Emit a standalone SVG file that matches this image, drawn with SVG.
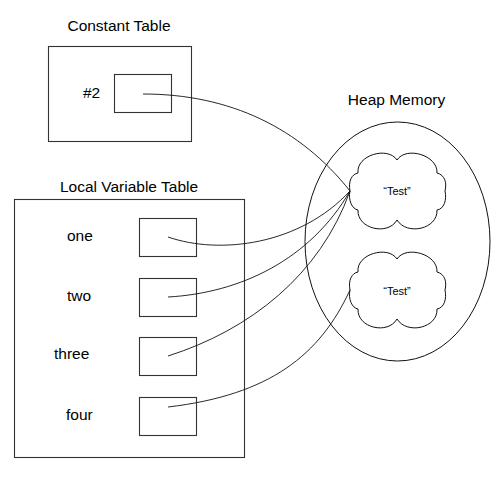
<svg xmlns="http://www.w3.org/2000/svg" width="504" height="482" viewBox="0 0 504 482">
<defs>
<style>
.box{fill:#fff;stroke:#333;stroke-width:1.1}
.t{font-family:"Liberation Sans",Arial,sans-serif;font-size:15.5px;fill:#000}
.s{font-family:"Liberation Sans",Arial,sans-serif;font-size:11px;fill:#000}
.c{fill:none;stroke:#111;stroke-width:0.9}
.sh{fill:none;stroke:#111;stroke-width:1}
</style>
<path id="cloud" d="M0,38 C-2,28 2,21 8,20 C6,2 38,-7 47,7 C56,-7 88,2 87,20 C95,22 97,30 95,38 C97,47 94,56 87,57 C88,76 57,83 47,67 C38,83 7,76 8,57 C2,56 -2,47 0,38 Z"/>
</defs>
<rect width="504" height="482" fill="#fff"/>
<g id="constant-table">
<text class="t" x="119" y="31" text-anchor="middle">Constant Table</text>
<rect class="box" x="48.5" y="46.5" width="143" height="95"/>
<text class="t" x="83" y="98">#2</text>
<rect class="box" x="114.5" y="74.5" width="57" height="38"/>
</g>
<g id="local-variable-table">
<text class="t" x="129" y="192" text-anchor="middle">Local Variable Table</text>
<rect class="box" x="14.5" y="199.5" width="230" height="258"/>
<text class="t" x="67" y="241">one</text>
<rect class="box" x="139.5" y="218.5" width="57" height="38"/>
<text class="t" x="67" y="301">two</text>
<rect class="box" x="139.5" y="278.5" width="57" height="38"/>
<text class="t" x="54" y="359">three</text>
<rect class="box" x="139.5" y="337.5" width="57" height="38"/>
<text class="t" x="66" y="420">four</text>
<rect class="box" x="139.5" y="397.5" width="57" height="38"/>
</g>
<g id="heap-memory">
<text class="t" x="396.5" y="105" text-anchor="middle">Heap Memory</text>
<ellipse class="sh" cx="397.5" cy="241.5" rx="92.5" ry="119.5"/>
</g>
<g id="test-1">
<use href="#cloud" class="sh" transform="translate(350,153)"/>
<text class="s" x="397" y="195" text-anchor="middle">“Test”</text>
</g>
<g id="test-2">
<use href="#cloud" class="sh" transform="translate(350,252)"/>
<text class="s" x="397" y="295" text-anchor="middle">“Test”</text>
</g>
<g id="connectors">
<path class="c" d="M143,94 C230,94 300,128 350,191"/>
<path class="c" d="M168,237 C220,255 300,245 350,191"/>
<path class="c" d="M168,297 C240,293 310,260 350,191"/>
<path class="c" d="M168,356 C250,330 320,275 350,191"/>
<path class="c" d="M168,407 C270,395 320,355 350,290"/>
</g>
</svg>
